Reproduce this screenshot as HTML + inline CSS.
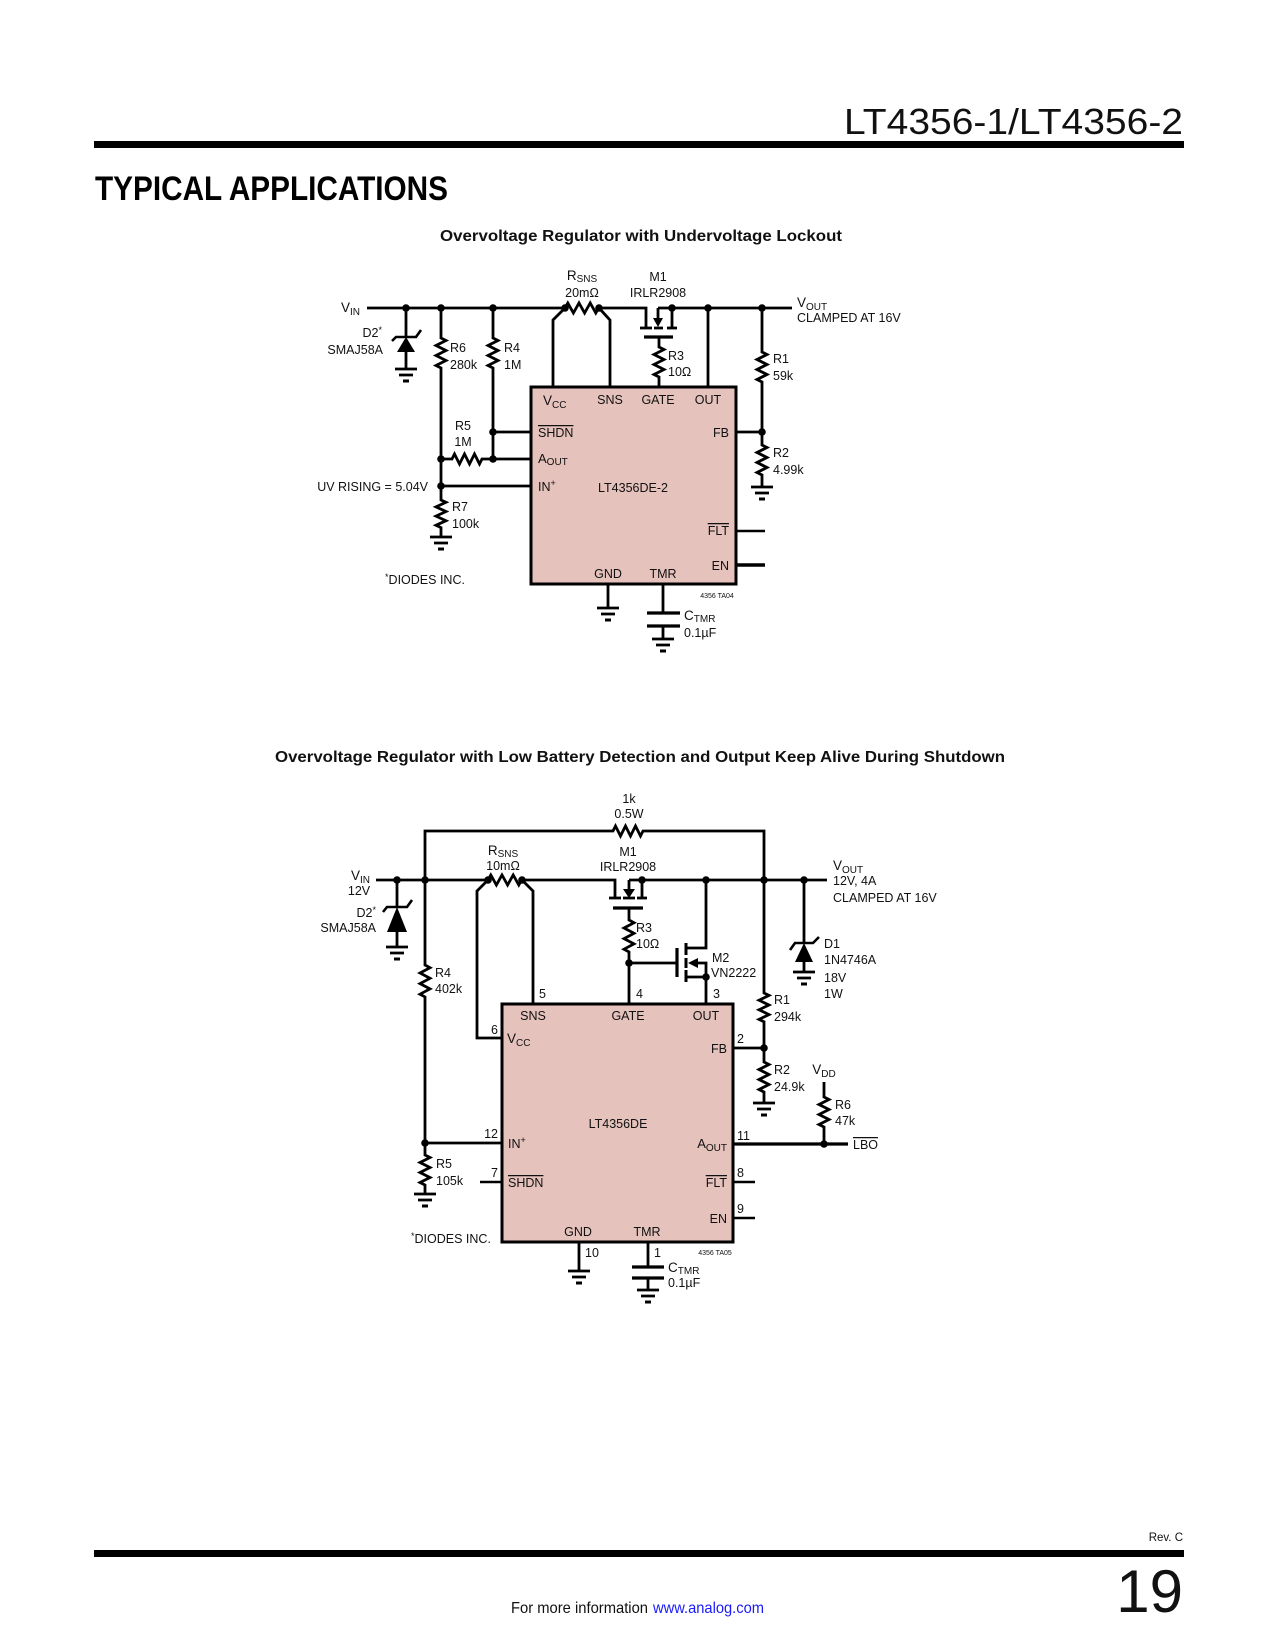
<!DOCTYPE html>
<html><head><meta charset="utf-8"><style>
html,body{margin:0;padding:0;background:#fff;}
svg{display:block;}
.t{font-family:"Liberation Sans",Arial,sans-serif;font-size:12.5px;fill:#111;}
.w{fill:none;stroke:#000;stroke-width:2.8;stroke-linecap:butt;stroke-linejoin:miter;}
.d{fill:#000;}
.ol{text-decoration:overline;}
</style></head><body>
<svg width="1275" height="1650" viewBox="0 0 1275 1650" xmlns="http://www.w3.org/2000/svg">
<!-- Header -->
<text x="844" y="134" font-family="Liberation Sans, Arial, sans-serif" font-size="36" fill="#111" textLength="339" lengthAdjust="spacingAndGlyphs">LT4356-1/LT4356-2</text>
<rect x="94" y="141" width="1090" height="7" fill="#000"/>
<text x="95" y="200" font-family="Liberation Sans, Arial, sans-serif" font-size="34" font-weight="bold" fill="#000" textLength="353" lengthAdjust="spacingAndGlyphs">TYPICAL APPLICATIONS</text>
<text x="440" y="241" font-family="Liberation Sans, Arial, sans-serif" font-size="16" font-weight="bold" fill="#111" textLength="402" lengthAdjust="spacingAndGlyphs">Overvoltage Regulator with Undervoltage Lockout</text>

<!-- ============ CIRCUIT 1 ============ -->
<rect x="531" y="387" width="205" height="197" fill="#e5c2bc" stroke="#000" stroke-width="3"/>
<g class="w">
<path d="M367,308 H565"/>
<path d="M565,308 l2.8,-5 l5.6,10 l5.6,-10 l5.6,10 l5.6,-10 l5.6,10 l2.8,-5"/>
<path d="M599,308 H646 V328"/>
<path d="M640,328 H652"/>
<path d="M658,308 V319"/>
<path d="M654,328 H663"/>
<path d="M672,308 V328"/>
<path d="M667,328 H677"/>
<path d="M658,308 H792"/>
<path d="M644,337 H673" stroke-width="3.2"/>
<path d="M659,337 V347 l5,2.5 l-10,5 l10,5 l-10,5 l10,5 l-10,5 l5,2.5 V387"/>
<path d="M565,308 L553,320 V387"/>
<path d="M599,308 L610,320 V387"/>
<path d="M708,308 V387"/>
<path d="M762,308 V352 l5,2.5 l-10,5 l10,5 l-10,5 l10,5 l-10,5 l5,2.5 V445 l5,2.5 l-10,5 l10,5 l-10,5 l10,5 l-10,5 l5,2.5 V487"/>
<path d="M751,487 H773 M755,493 H769"/>
<path d="M759,499 H765" stroke-width="3"/>
<path d="M736,432 H762"/>
<path d="M736,531 H765" stroke-width="2.4"/>
<path d="M736,565 H765" stroke-width="3.4"/>
<path d="M608,584 V608"/>
<path d="M597,608 H619 M601,614 H615"/>
<path d="M605,620 H611" stroke-width="3"/>
<path d="M663,584 V613"/>
<path d="M647,613 H680 M647,626 H680" stroke-width="3.2"/>
<path d="M663,626 V639"/>
<path d="M652,639 H674 M656,645 H670"/>
<path d="M660,651 H666" stroke-width="3"/>
<path d="M406,308 V337"/>
<path d="M392,341 L396,337 L416,337 L421,330" stroke-width="2.6"/>
<path d="M406,352 V369"/>
<path d="M395,369 H417 M399,375 H413"/>
<path d="M403,381 H409" stroke-width="3"/>
<path d="M441,308 V338 l5,2.5 l-10,5 l10,5 l-10,5 l10,5 l-10,5 l5,2.5 V500 l5,2.3 l-10,4.6 l10,4.6 l-10,4.6 l10,4.6 l-10,4.6 l5,2.3 V537"/>
<path d="M430,537 H452 M434,543 H448"/>
<path d="M438,549 H444" stroke-width="3"/>
<path d="M493,308 V338 l5,2.5 l-10,5 l10,5 l-10,5 l10,5 l-10,5 l5,2.5 V459"/>
<path d="M493,432 H531"/>
<path d="M441,459 H452 l2.5,-5 l5,10 l5,-10 l5,10 l5,-10 l5,10 l2.5,-5 H531"/>
<path d="M441,486 H531"/>
</g>
<polygon class="d" points="653,318 663,318 658,327"/>
<polygon class="d" points="406,337 397,352 415,352"/>
<g class="d">
<circle cx="406" cy="308" r="3.8"/><circle cx="441" cy="308" r="3.8"/><circle cx="493" cy="308" r="3.8"/>
<circle cx="565" cy="308" r="3.8"/><circle cx="599" cy="308" r="3.8"/><circle cx="672" cy="308" r="3.8"/>
<circle cx="708" cy="308" r="3.8"/><circle cx="762" cy="308" r="3.8"/><circle cx="762" cy="432" r="3.8"/>
<circle cx="493" cy="432" r="3.8"/><circle cx="441" cy="459" r="3.8"/><circle cx="493" cy="459" r="3.8"/>
<circle cx="441" cy="486" r="3.8"/>
</g>
<text class="t" x="341" y="312" style="font-size:13.5px">V<tspan font-size="10" dy="3">IN</tspan></text>
<text class="t" x="382" y="337" text-anchor="end">D2<tspan font-size="9" dy="-4">*</tspan></text>
<text class="t" x="383" y="354" text-anchor="end">SMAJ58A</text>
<text class="t" x="450" y="352">R6</text><text class="t" x="450" y="369">280k</text>
<text class="t" x="504" y="352">R4</text><text class="t" x="504" y="369">1M</text>
<text class="t" x="463" y="430" text-anchor="middle">R5</text><text class="t" x="463" y="446" text-anchor="middle">1M</text>
<text class="t" x="582" y="280" text-anchor="middle" style="font-size:13.5px">R<tspan font-size="10" dy="2">SNS</tspan></text>
<text class="t" x="582" y="297" text-anchor="middle">20mΩ</text>
<text class="t" x="658" y="281" text-anchor="middle">M1</text>
<text class="t" x="658" y="297" text-anchor="middle">IRLR2908</text>
<text class="t" x="668" y="360">R3</text><text class="t" x="668" y="376">10Ω</text>
<text class="t" x="773" y="363">R1</text><text class="t" x="773" y="380">59k</text>
<text class="t" x="773" y="457">R2</text><text class="t" x="773" y="474">4.99k</text>
<text class="t" x="797" y="307" style="font-size:13.5px">V<tspan font-size="10" dy="3">OUT</tspan></text>
<text class="t" x="797" y="322">CLAMPED AT 16V</text>
<text class="t" x="428" y="491" text-anchor="end">UV RISING = 5.04V</text>
<text class="t" x="452" y="511">R7</text><text class="t" x="452" y="528">100k</text>
<text class="t" x="425" y="584" text-anchor="middle"><tspan font-size="9" dy="-4">*</tspan><tspan dy="4">DIODES INC.</tspan></text>
<text class="t" x="543" y="405" style="font-size:13.5px">V<tspan font-size="10" dy="3">CC</tspan></text>
<text class="t" x="610" y="404" text-anchor="middle">SNS</text>
<text class="t" x="658" y="404" text-anchor="middle">GATE</text>
<text class="t" x="708" y="404" text-anchor="middle">OUT</text>
<text class="t ol" x="538" y="437">SHDN</text>
<text class="t" x="538" y="463" style="font-size:13px">A<tspan font-size="10" dy="2">OUT</tspan></text>
<text class="t" x="538" y="491">IN<tspan font-size="9" dy="-5">+</tspan></text>
<text class="t" x="729" y="437" text-anchor="end">FB</text>
<text class="t" x="633" y="492" text-anchor="middle">LT4356DE-2</text>
<text class="t ol" x="729" y="535" text-anchor="end">FLT</text>
<text class="t" x="729" y="570" text-anchor="end">EN</text>
<text class="t" x="608" y="578" text-anchor="middle">GND</text>
<text class="t" x="663" y="578" text-anchor="middle">TMR</text>
<text class="t" x="717" y="598" text-anchor="middle" style="font-size:7px">4356 TA04</text>
<text class="t" x="684" y="620" style="font-size:13.5px">C<tspan font-size="10" dy="2">TMR</tspan></text>
<text class="t" x="684" y="637">0.1µF</text>

<!-- ============ CIRCUIT 2 ============ -->
<text x="275" y="762" font-family="Liberation Sans, Arial, sans-serif" font-size="16" font-weight="bold" fill="#111" textLength="730" lengthAdjust="spacingAndGlyphs">Overvoltage Regulator with Low Battery Detection and Output Keep Alive During Shutdown</text>
<rect x="502" y="1004" width="231" height="238" fill="#e5c2bc" stroke="#000" stroke-width="3"/>
<g class="w">
<path d="M425,880 V831 H613 l2.5,-5 l5,10 l5,-10 l5,10 l5,-10 l5,10 l2.5,-5 H764 V993 l5,2.4 l-10,4.8 l10,4.8 l-10,4.8 l10,4.8 l-10,4.8 l5,2.4 V1062 l5,2.5 l-10,5 l10,5 l-10,5 l10,5 l-10,5 l5,2.5 V1103"/>
<path d="M753,1103 H775 M757,1109 H771"/>
<path d="M761,1115 H767" stroke-width="3"/>
<path d="M376,880 H488"/>
<path d="M488,880 l2.8,-5 l5.6,10 l5.6,-10 l5.6,10 l5.6,-10 l5.6,10 l2.8,-5"/>
<path d="M522,880 H615 V898"/>
<path d="M609,898 H621"/>
<path d="M629,880 V889"/>
<path d="M623,898 H635"/>
<path d="M642,880 V898"/>
<path d="M637,898 H647"/>
<path d="M629,880 H827"/>
<path d="M613,908 H643" stroke-width="3.2"/>
<path d="M629,908 V920 l5,2.7 l-10,5.3 l10,5.3 l-10,5.3 l10,5.3 l-10,5.3 l5,2.7 V1004"/>
<path d="M629,963 H677"/>
<path d="M677,948 V977" stroke-width="3.2"/>
<path d="M686,943 V955 M686,958 V968 M686,970 V982" stroke-width="3"/>
<path d="M686,948 H706 V880"/>
<path d="M686,977 H706 V1004"/>
<path d="M696,963 H706 V977"/>
<path d="M804,880 V943"/>
<path d="M790,950 L795,943 L813,943 L819,937" stroke-width="2.6"/>
<path d="M804,962 V972"/>
<path d="M793,972 H815 M797,978 H811"/>
<path d="M801,984 H807" stroke-width="3"/>
<path d="M397,880 V907"/>
<path d="M383,912 L387,907 L407,907 L412,900" stroke-width="2.6"/>
<path d="M397,932 V947"/>
<path d="M386,947 H408 M390,953 H404"/>
<path d="M394,959 H400" stroke-width="3"/>
<path d="M488,880 L477,891 V1038 H502"/>
<path d="M522,880 L533,891 V1004"/>
<path d="M425,880 V965 l5,2.7 l-10,5.3 l10,5.3 l-10,5.3 l10,5.3 l-10,5.3 l5,2.7 V1155 l5,2.5 l-10,5 l10,5 l-10,5 l10,5 l-10,5 l5,2.5 V1194"/>
<path d="M414,1194 H436 M418,1200 H432"/>
<path d="M422,1206 H428" stroke-width="3"/>
<path d="M425,1143 H502"/>
<path d="M480,1182 H502" stroke-width="2.4"/>
<path d="M733,1048 H764"/>
<path d="M733,1144 H848" stroke-width="3.2"/>
<path d="M824,1082 V1097 l5,2.5 l-10,5 l10,5 l-10,5 l10,5 l-10,5 l5,2.5 V1144"/>
<path d="M733,1182 H755" stroke-width="2.4"/>
<path d="M733,1218 H755" stroke-width="2.4"/>
<path d="M579,1242 V1271"/>
<path d="M568,1271 H590 M572,1277 H586"/>
<path d="M576,1283 H582" stroke-width="3"/>
<path d="M648,1242 V1267"/>
<path d="M632,1267 H664 M632,1278 H664" stroke-width="3.2"/>
<path d="M648,1278 V1290"/>
<path d="M637,1290 H659 M641,1296 H655"/>
<path d="M645,1302 H651" stroke-width="3"/>
</g>
<polygon class="d" points="623,889 635,889 629,898"/>
<polygon class="d" points="688,963 698,958 698,968"/>
<polygon class="d" points="804,943 795,962 813,962"/>
<polygon class="d" points="397,907 387,932 407,932"/>
<g class="d">
<circle cx="397" cy="880" r="3.8"/><circle cx="425" cy="880" r="3.8"/><circle cx="488" cy="880" r="3.8"/>
<circle cx="522" cy="880" r="3.8"/><circle cx="642" cy="880" r="3.8"/><circle cx="706" cy="880" r="3.8"/>
<circle cx="764" cy="880" r="3.8"/><circle cx="804" cy="880" r="3.8"/><circle cx="629" cy="963" r="3.8"/>
<circle cx="706" cy="977" r="3.8"/><circle cx="764" cy="1048" r="3.8"/><circle cx="425" cy="1143" r="3.8"/>
<circle cx="824" cy="1144" r="3.8"/>
</g>
<text class="t" x="629" y="803" text-anchor="middle">1k</text>
<text class="t" x="629" y="818" text-anchor="middle">0.5W</text>
<text class="t" x="351" y="880" style="font-size:13.5px">V<tspan font-size="10" dy="3">IN</tspan></text>
<text class="t" x="359" y="895" text-anchor="middle">12V</text>
<text class="t" x="376" y="917" text-anchor="end">D2<tspan font-size="9" dy="-4">*</tspan></text>
<text class="t" x="376" y="932" text-anchor="end">SMAJ58A</text>
<text class="t" x="503" y="855" text-anchor="middle" style="font-size:13.5px">R<tspan font-size="10" dy="2">SNS</tspan></text>
<text class="t" x="503" y="870" text-anchor="middle">10mΩ</text>
<text class="t" x="628" y="856" text-anchor="middle">M1</text>
<text class="t" x="628" y="871" text-anchor="middle">IRLR2908</text>
<text class="t" x="636" y="932">R3</text><text class="t" x="636" y="948">10Ω</text>
<text class="t" x="712" y="962">M2</text><text class="t" x="711" y="977">VN2222</text>
<text class="t" x="833" y="870" style="font-size:13.5px">V<tspan font-size="10" dy="3">OUT</tspan></text>
<text class="t" x="833" y="885">12V, 4A</text>
<text class="t" x="833" y="902">CLAMPED AT 16V</text>
<text class="t" x="824" y="948">D1</text>
<text class="t" x="824" y="964">1N4746A</text>
<text class="t" x="824" y="982">18V</text>
<text class="t" x="824" y="998">1W</text>
<text class="t" x="774" y="1004">R1</text><text class="t" x="774" y="1021">294k</text>
<text class="t" x="774" y="1074">R2</text><text class="t" x="774" y="1091">24.9k</text>
<text class="t" x="824" y="1074" text-anchor="middle" style="font-size:13.5px">V<tspan font-size="10" dy="3">DD</tspan></text>
<text class="t" x="835" y="1109">R6</text><text class="t" x="835" y="1125">47k</text>
<text class="t ol" x="853" y="1149">LBO</text>
<text class="t" x="435" y="977">R4</text><text class="t" x="435" y="993">402k</text>
<text class="t" x="436" y="1168">R5</text><text class="t" x="436" y="1185">105k</text>
<text class="t" x="411" y="1243"><tspan font-size="9" dy="-4">*</tspan><tspan dy="4">DIODES INC.</tspan></text>
<text class="t" x="539" y="998">5</text>
<text class="t" x="636" y="998">4</text>
<text class="t" x="713" y="998">3</text>
<text class="t" x="498" y="1034" text-anchor="end">6</text>
<text class="t" x="498" y="1138" text-anchor="end">12</text>
<text class="t" x="498" y="1177" text-anchor="end">7</text>
<text class="t" x="737" y="1043">2</text>
<text class="t" x="737" y="1140">11</text>
<text class="t" x="737" y="1177">8</text>
<text class="t" x="737" y="1213">9</text>
<text class="t" x="585" y="1257">10</text>
<text class="t" x="654" y="1257">1</text>
<text class="t" x="533" y="1020" text-anchor="middle">SNS</text>
<text class="t" x="628" y="1020" text-anchor="middle">GATE</text>
<text class="t" x="706" y="1020" text-anchor="middle">OUT</text>
<text class="t" x="507" y="1043" style="font-size:13.5px">V<tspan font-size="10" dy="3">CC</tspan></text>
<text class="t" x="727" y="1053" text-anchor="end">FB</text>
<text class="t" x="618" y="1128" text-anchor="middle">LT4356DE</text>
<text class="t" x="508" y="1148">IN<tspan font-size="9" dy="-5">+</tspan></text>
<text class="t" x="727" y="1148" text-anchor="end" style="font-size:13px">A<tspan font-size="10" dy="3">OUT</tspan></text>
<text class="t ol" x="508" y="1187">SHDN</text>
<text class="t ol" x="727" y="1187" text-anchor="end">FLT</text>
<text class="t" x="727" y="1223" text-anchor="end">EN</text>
<text class="t" x="578" y="1236" text-anchor="middle">GND</text>
<text class="t" x="647" y="1236" text-anchor="middle">TMR</text>
<text class="t" x="715" y="1255" text-anchor="middle" style="font-size:7px">4356 TA05</text>
<text class="t" x="668" y="1272" style="font-size:13.5px">C<tspan font-size="10" dy="2">TMR</tspan></text>
<text class="t" x="668" y="1287">0.1µF</text>

<!-- Footer -->
<text x="1183" y="1541" text-anchor="end" font-family="Liberation Sans, Arial, sans-serif" font-size="11.5" fill="#111">Rev. C</text>
<rect x="94" y="1550" width="1090" height="7" fill="#000"/>
<text x="1183" y="1612" text-anchor="end" font-family="Liberation Sans, Arial, sans-serif" font-size="60" fill="#111">19</text>
<text x="511" y="1613" font-family="Liberation Sans, Arial, sans-serif" font-size="16" fill="#111" textLength="137" lengthAdjust="spacingAndGlyphs">For more information</text>
<text x="653" y="1613" font-family="Liberation Sans, Arial, sans-serif" font-size="16" fill="#1a1aff" textLength="111" lengthAdjust="spacingAndGlyphs">www.analog.com</text>
</svg>
</body></html>
